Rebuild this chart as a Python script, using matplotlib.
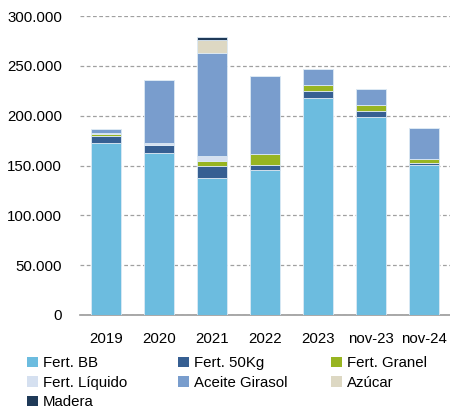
import matplotlib
matplotlib.use("Agg")
import matplotlib.pyplot as plt
from matplotlib.patches import Patch
import numpy as np

plt.rcParams['font.family'] = ['Liberation Sans', 'DejaVu Sans']

categories = ["2019", "2020", "2021", "2022", "2023", "nov-23", "nov-24"]
fert_bb      = [173000, 162600, 137200, 145300, 218200, 199100, 150300]
fert_50kg    = [7000, 8400, 12100, 5300, 7000, 6000, 2600]
fert_granel  = [2000, 0, 5700, 10700, 6000, 5700, 3400]
fert_liquido = [1000, 1400, 5000, 600, 0, 0, 500]
aceite_gir   = [3700, 63600, 103300, 77700, 16100, 15800, 30600]
azucar       = [0, 0, 13100, 0, 0, 0, 0]
madera       = [0, 0, 2700, 0, 0, 0, 0]

series = [
    ("Fert. BB", fert_bb, "#6CBCDF"),
    ("Fert. 50Kg", fert_50kg, "#365F92"),
    ("Fert. Granel", fert_granel, "#98B521"),
    ("Fert. Líquido", fert_liquido, "#D5E0F0"),
    ("Aceite Girasol", aceite_gir, "#799DCD"),
    ("Azúcar", azucar, "#DDD8C3"),
    ("Madera", madera, "#1F3A58"),
]

fig = plt.figure(figsize=(4.5, 4.12), dpi=100)
ax = fig.add_axes([80/450, 97/412, 370/450, 299/412])

x = np.arange(len(categories))
bottom = np.zeros(len(categories))
for name, vals, col in series:
    v = np.array(vals, dtype=float)
    ax.bar(x, v, 0.57, bottom=bottom, color=col, edgecolor="#DCE9F4", linewidth=0.6, zorder=3)
    bottom += v

ax.set_xlim(-0.5, 6.5)
ax.set_ylim(0, 300000)
yt = np.arange(0, 300001, 50000)
ax.set_yticks(yt)
ax.set_yticklabels(["0" if t == 0 else f"{int(t):,}".replace(",", ".") for t in yt])
ax.set_xticks(x)
ax.set_xticklabels(categories)
ax.tick_params(axis='both', length=0, labelsize=10.8, colors="#000000")
ax.tick_params(axis='y', pad=13)
ax.tick_params(axis='x', pad=12)
ax.yaxis.grid(True, linestyle=(0, (3, 2)), color="#A0A0A0", linewidth=0.9, zorder=0)
for s in ["top", "right", "left"]:
    ax.spines[s].set_visible(False)
ax.spines["bottom"].set_color("#9A9A9A")
ax.spines["bottom"].set_linewidth(1.2)

# legend laid out row-wise in 3 columns
col_x = [27/450, 178/450, 331/450]
for c in range(3):
    idx = list(range(c, len(series), 3))
    handles = [Patch(facecolor=series[i][2], edgecolor="none") for i in idx]
    labels = [series[i][0] for i in idx]
    lg = fig.legend(handles, labels, ncol=1, loc="upper left", bbox_to_anchor=(col_x[c], 1 - 356/412),
                    frameon=False, fontsize=10.8, handlelength=0.7, handleheight=0.7,
                    handletextpad=0.35, labelspacing=0.38, borderaxespad=0, borderpad=0)
fig.savefig("out.png", dpi=100)
